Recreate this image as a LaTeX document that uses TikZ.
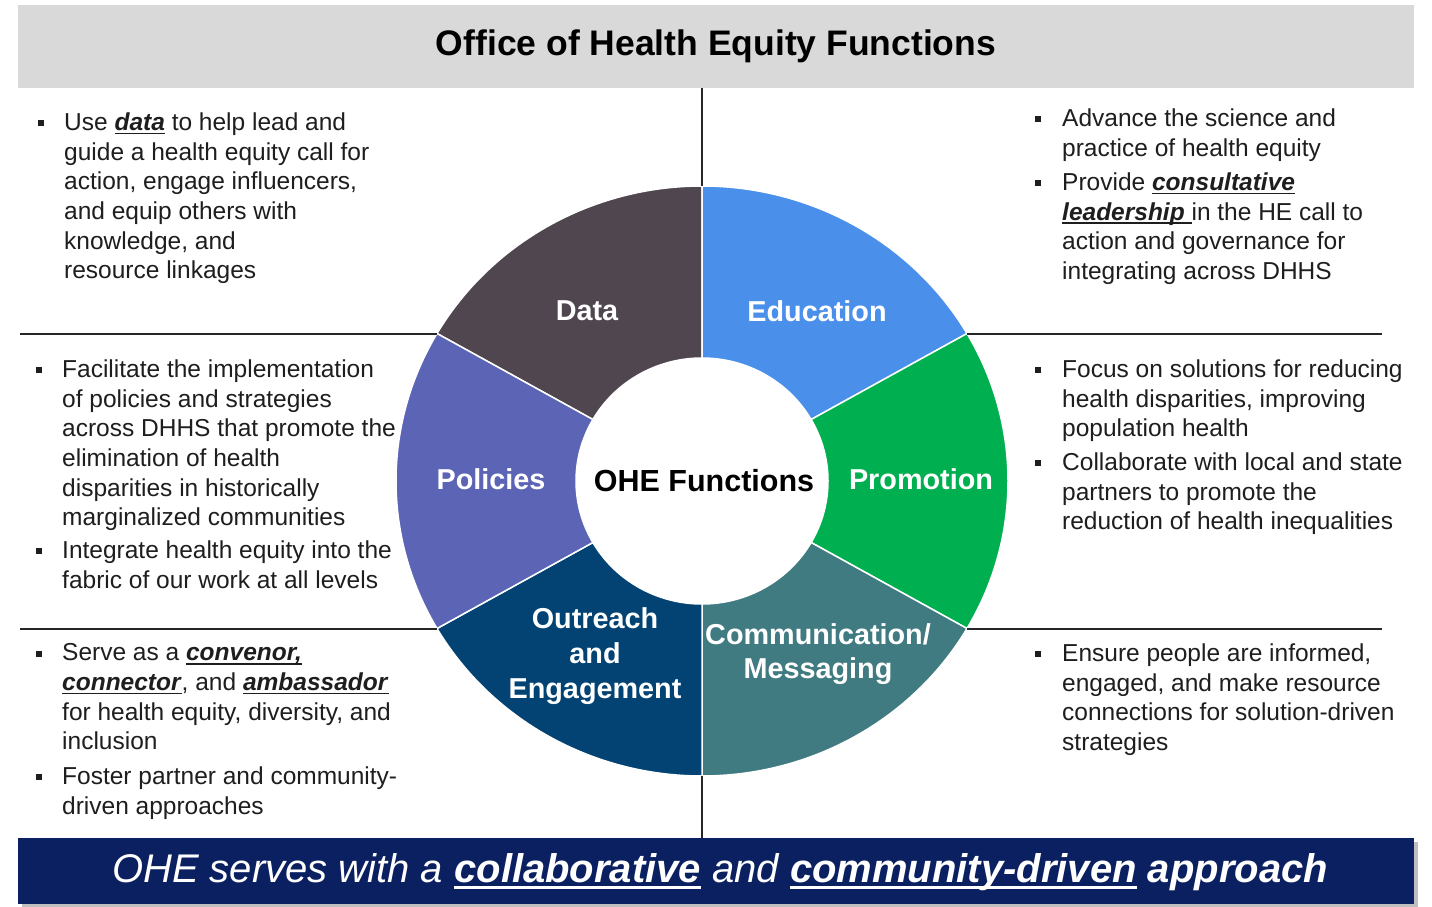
\documentclass[tikz,border=0pt]{standalone}
\usepackage{fontspec}
\setmainfont{Liberation Sans}
\usetikzlibrary{calc}
\definecolor{bannergray}{HTML}{D9D9D9}
\definecolor{navy}{HTML}{0A2060}
\definecolor{cdata}{HTML}{50464F}
\definecolor{cedu}{HTML}{4A8FEA}
\definecolor{cpromo}{HTML}{00AF50}
\definecolor{ccomm}{HTML}{417B82}
\definecolor{coutr}{HTML}{034373}
\definecolor{cpol}{HTML}{5C65B5}
\definecolor{txtc}{HTML}{1E1E1E}
\newcommand{\myul}[1]{\setbox0\hbox{#1}\rlap{\rule[-0.16em]{\wd0}{0.065em}}\box0\relax}
\newcommand{\bu}[1]{\myul{\textbf{\textit{#1}}}}
\newcommand{\seg}[3]{\fill[#1, draw=white, line width=1.5pt] ($(C)+(#2:306 and 295)$) arc[start angle=#2, end angle=#3, x radius=306, y radius=295] -- ($(C)+(#3:126 and 123)$) arc[start angle=#3, end angle=#2, x radius=126, y radius=123] -- cycle;}
\begin{document}
\begin{tikzpicture}[x=1pt,y=-1pt,
  body/.style={anchor=north west, inner sep=0pt, align=left, text=txtc, font=\fontsize{24.5}{29.7}\selectfont},
  bul/.style={fill=txtc, minimum size=5.5pt, inner sep=0pt},
  seglabel/.style={text=white, font=\fontsize{28.8}{34}\selectfont\bfseries, align=center, inner sep=0pt},
  rule/.style={draw=black!85, line width=1.1pt}]
\useasboundingbox (0,0) rectangle (1432,907);
\fill[white] (0,0) rectangle (1432,907);
% title banner
\node[fill=bannergray, minimum width=1396pt, minimum height=83pt, inner sep=0pt, anchor=north west] (banner) at (18,5) {};
\node[font=\fontsize{35.5}{40}\selectfont\bfseries, inner sep=0pt] (title) at (716,46) {Office of Health Equity Functions};
% donut
\coordinate (C) at (702,481);
\seg{cdata}{-90}{-150}
\seg{cedu}{-30}{-90}
\seg{cpromo}{30}{-30}
\seg{ccomm}{90}{30}
\seg{coutr}{150}{90}
\seg{cpol}{210}{150}
\node[font=\fontsize{30.5}{36}\selectfont\bfseries, inner sep=0pt] (center) at (704,481) {OHE Functions};
\node[seglabel] (data) at (587,311) {Data};
\node[seglabel] (edu) at (817,311) {Education};
\node[seglabel] (pol) at (491,479) {Policies};
\node[seglabel] (promo) at (921,479) {Promotion};
\node[seglabel, font=\fontsize{28.8}{35}\selectfont\bfseries] (outr) at (595,656) {Outreach\\and\\Engagement};
\node[seglabel] (comm) at (818,654) {Communication/\\Messaging};
% rules
\coordinate (vt1) at (702,88);
\coordinate (vt2) at (702,186);
\coordinate (vb1) at (702,776);
\coordinate (vb2) at (702,838);
\coordinate (hl1a) at (20,334);
\coordinate (hl1b) at (437,334);
\coordinate (hr1a) at (967,334);
\coordinate (hr1b) at (1382,334);
\coordinate (hl2a) at (20,629);
\coordinate (hl2b) at (437,629);
\coordinate (hr2a) at (967,629);
\coordinate (hr2b) at (1382,629);
\draw[rule] (vt1) -- (vt2);
\draw[rule] (vb1) -- (vb2);
\draw[rule] (hl1a) -- (hl1b);
\draw[rule] (hr1a) -- (hr1b);
\draw[rule] (hl2a) -- (hl2b);
\draw[rule] (hr2a) -- (hr2b);
% left top
\node[body] (lt1) at (64,112.5) {Use \bu{data} to help lead and\\guide a health equity call for\\action, engage influencers,\\and equip others with\\knowledge, and\\resource linkages};
\node[bul] (blt1) at (41,123) {};
% right top
\node[body] (rt1) at (1062,108.5) {Advance the science and\\practice of health equity};
\node[bul] (brt1) at (1038,119) {};
\node[body] (rt2) at (1062,172.5) {Provide \bu{consultative}\\\bu{leadership }in the HE call to\\action and governance for\\integrating across DHHS};
\node[bul] (brt2) at (1038,183) {};
% left middle
\node[body] (lm1) at (62,359.5) {Facilitate the implementation\\of policies and strategies\\across DHHS that promote the\\elimination of health\\disparities in historically\\marginalized communities};
\node[bul] (blm1) at (39,370) {};
\node[body] (lm2) at (62,540.5) {Integrate health equity into the\\fabric of our work at all levels};
\node[bul] (blm2) at (39,551) {};
% right middle
\node[body] (rm1) at (1062,359.5) {Focus on solutions for reducing\\health disparities, improving\\population health};
\node[bul] (brm1) at (1038,370) {};
\node[body] (rm2) at (1062,452.5) {Collaborate with local and state\\partners to promote the\\reduction of health inequalities};
\node[bul] (brm2) at (1038,463) {};
% left bottom
\node[body] (lb1) at (62,643.5) {Serve as a \bu{convenor,}\\\bu{connector}, and \bu{ambassador}\\for health equity, diversity, and\\inclusion};
\node[bul] (blb1) at (39,654) {};
\node[body] (lb2) at (62,766.5) {Foster partner and community-\\driven approaches};
\node[bul] (blb2) at (39,777) {};
% right bottom
\node[body] (rb1) at (1062,643.5) {Ensure people are informed,\\engaged, and make resource\\connections for solution-driven\\strategies};
\node[bul] (brb1) at (1038,654) {};
% footer
\fill[black!25] (22,842) rectangle (1418,908);
\node[fill=navy, minimum width=1396pt, minimum height=66pt, inner sep=0pt, anchor=north west] (footer) at (18,838) {};
\node[text=white, font=\fontsize{40}{46}\selectfont\itshape, inner sep=0pt] (foottext) at (720,872) {OHE serves with a \myul{\textbf{collaborative}} and \myul{\textbf{community-driven}} \textbf{approach}};
\end{tikzpicture}
\end{document}
